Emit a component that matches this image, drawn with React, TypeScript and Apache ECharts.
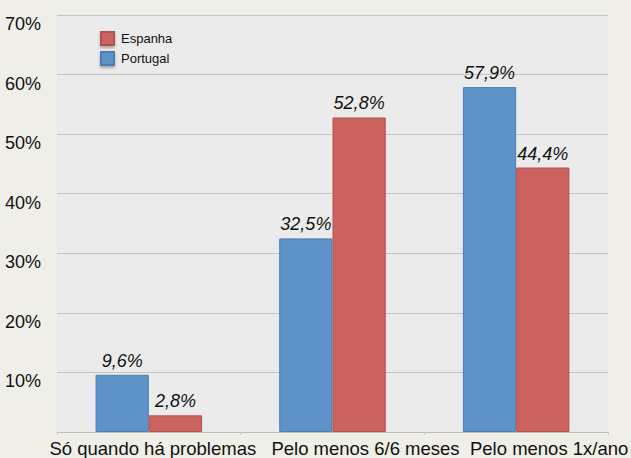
import React, { useEffect, useRef } from "react";
import * as echarts from "echarts";

const categories = ["Só quando há problemas", "Pelo menos 6/6 meses", "Pelo menos 1x/ano"];
const portugal = [9.6, 32.5, 57.9];
const espanha = [2.8, 52.8, 44.4];
const labelShift = [8, 66, 66];

const FONT = "'Liberation Sans', Arial, Helvetica, sans-serif";
const fmt = (v: number) => v.toFixed(1).replace(".", ",") + "%";

export default function App() {
  const ref = useRef<HTMLDivElement>(null);
  useEffect(() => {
    if (!ref.current) return;
    const chart = echarts.init(ref.current, undefined, { renderer: "svg" });
    const valueLabel = {
      show: true,
      position: "top" as const,
      distance: 5,
      fontFamily: FONT,
      fontSize: 18,
      fontStyle: "italic" as const,
      color: "#111",
      formatter: (p: any) => fmt(p.value),
    };
    chart.setOption({
      animation: false,
      backgroundColor: "#EFEEE7",
      textStyle: { fontFamily: FONT },
      legend: {
        data: [
          { name: "Espanha", icon: "rect" },
          { name: "Portugal", icon: "rect" },
        ],
        orient: "vertical",
        left: 95,
        top: 26,
        itemWidth: 13,
        itemHeight: 13,
        itemGap: 5,
        itemStyle: { shadowBlur: 3, shadowColor: "rgba(0,0,0,0.3)", shadowOffsetY: 2 },
        textStyle: { fontFamily: FONT, fontSize: 13, color: "#111", padding: [0, 0, 0, 2] },
      },
      grid: {
        left: 57,
        right: 21,
        top: 15,
        bottom: 24,
        show: true,
        backgroundColor: "#EBEBEB",
        borderWidth: 0,
        containLabel: false,
      },
      xAxis: {
        type: "category",
        data: categories.map((c, i) => ({
          value: c,
          textStyle: { padding: [0, 0, 0, labelShift[i]] },
        })),
        axisLine: { show: true, lineStyle: { color: "#BDBDBD", width: 1 } },
        axisTick: { show: true, length: 3, lineStyle: { color: "#C8C8C8" } },
        axisLabel: {
          interval: 0,
          margin: 7,
          fontFamily: FONT,
          fontSize: 18.5,
          color: "#111",
          hideOverlap: false,
        },
      },
      yAxis: {
        type: "value",
        min: 0,
        max: 70,
        interval: 10,
        axisLine: { show: false },
        axisTick: { show: false },
        splitLine: { show: true, lineStyle: { color: "#C4C4C4", width: 1.2 } },
        axisLabel: {
          margin: 16,
          fontFamily: FONT,
          fontSize: 18,
          lineHeight: 18,
          verticalAlign: "top",
          color: "#111",
          formatter: (v: number) => (v === 0 ? "" : v + "%"),
        },
      },
      series: [
        {
          name: "Portugal",
          type: "bar",
          data: portugal,
          barGap: "0%",
          barCategoryGap: "42%",
          itemStyle: { color: "#5E93CA", borderColor: "#4E7DB0", borderWidth: 1 },
          label: valueLabel,
        },
        {
          name: "Espanha",
          type: "bar",
          data: espanha,
          barGap: "0%",
          barCategoryGap: "42%",
          itemStyle: { color: "#CD635E", borderColor: "#B4534E", borderWidth: 1 },
          label: valueLabel,
        },
      ],
    });
    return () => chart.dispose();
  }, []);
  return (
    <div
      ref={ref}
      style={{ position: "absolute", left: 0, top: 0, width: 631, height: 458 }}
    />
  );
}
